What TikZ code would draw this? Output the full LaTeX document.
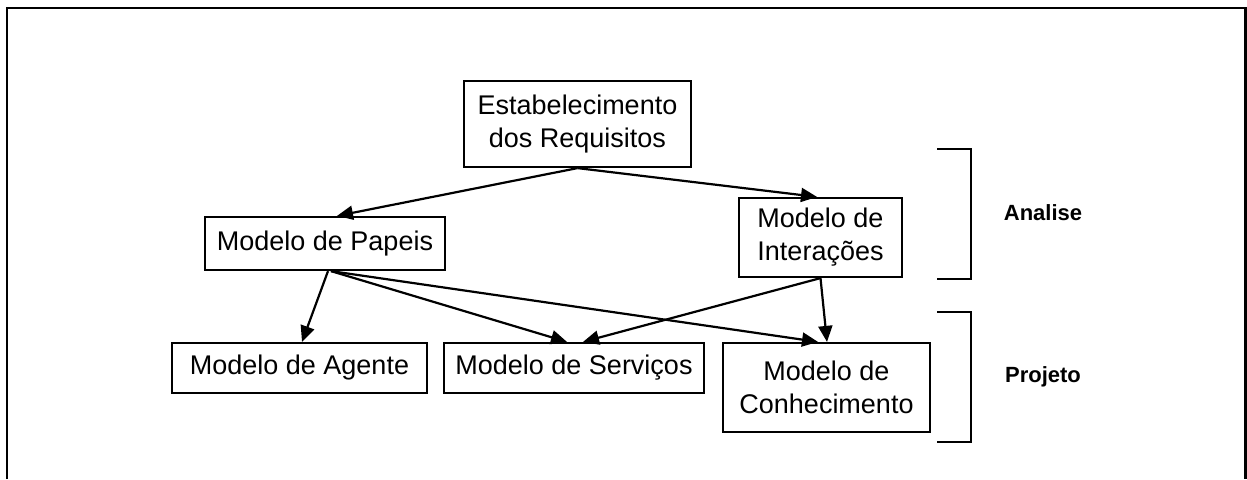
\documentclass[tikz,border=0pt]{standalone}
\usepackage{fontspec}
\setmainfont{Liberation Sans}
\usetikzlibrary{arrows.meta}

\begin{document}
\begin{tikzpicture}
  [x=1pt,y=-1pt,
   box/.style={draw,line width=2.2pt,align=center,inner sep=0pt,
     font=\fontsize{27}{33}\selectfont},
   phase/.style={font=\fontsize{22}{26}\selectfont\bfseries},
   link/.style={line width=2.2pt,-{Triangle[length=16pt,width=14pt]}}]
  \useasboundingbox (0,0) rectangle (1247,479);
  \draw [line width=2.5pt] (7,479) -- (7,8) -- (1245.5,8) -- (1245.5,479);

  \node[box,minimum width=227,minimum height=86] (req) at (577.5,124) {Estabelecimento\\dos Requisitos};
  \node[box,minimum width=240,minimum height=53] (papeis) at (325,243.5) {Modelo de Papeis};
  \node[box,minimum width=163,minimum height=79] (inter) at (820.5,237.5) {Modelo de\\Interações};
  \node[box,minimum width=255,minimum height=50] (agente) at (299.5,368) {Modelo de Agente};
  \node[box,minimum width=260,minimum height=50] (servicos) at (574,368) {Modelo de Serviços};
  \node[box,minimum width=207,minimum height=89] (conhec) at (826.5,387.5) {Modelo de\\Conhecimento};

  \draw [link] (req.south) -- ([xshift=12pt]papeis.north);
  \draw [link] (req.south) -- ([xshift=-3.5pt]inter.north);
  \draw [link] ([xshift=3pt]papeis.south) -- ([xshift=2.5pt]agente.north);
  \draw [link] ([xshift=6pt]papeis.south) -- ([xshift=-7pt]servicos.north);
  \draw [link] ([xshift=6pt]papeis.south) -- ([xshift=-8.5pt]conhec.north);
  \draw [link] (inter.south) -- ([xshift=9pt]servicos.north);
  \draw [link] (inter.south) -- ([xshift=0.5pt]conhec.north);

  % fases
  \draw [line width=2.2pt] (937,149) -| (971,279) -- (937,279);
  \draw [line width=2.2pt] (937,312) -| (971,442) -- (937,442);
  \node[phase] (analise) at (1043,213) {Analise};
  \node[phase] (projeto) at (1043,377) {Projeto};

\end{tikzpicture}
\end{document}
